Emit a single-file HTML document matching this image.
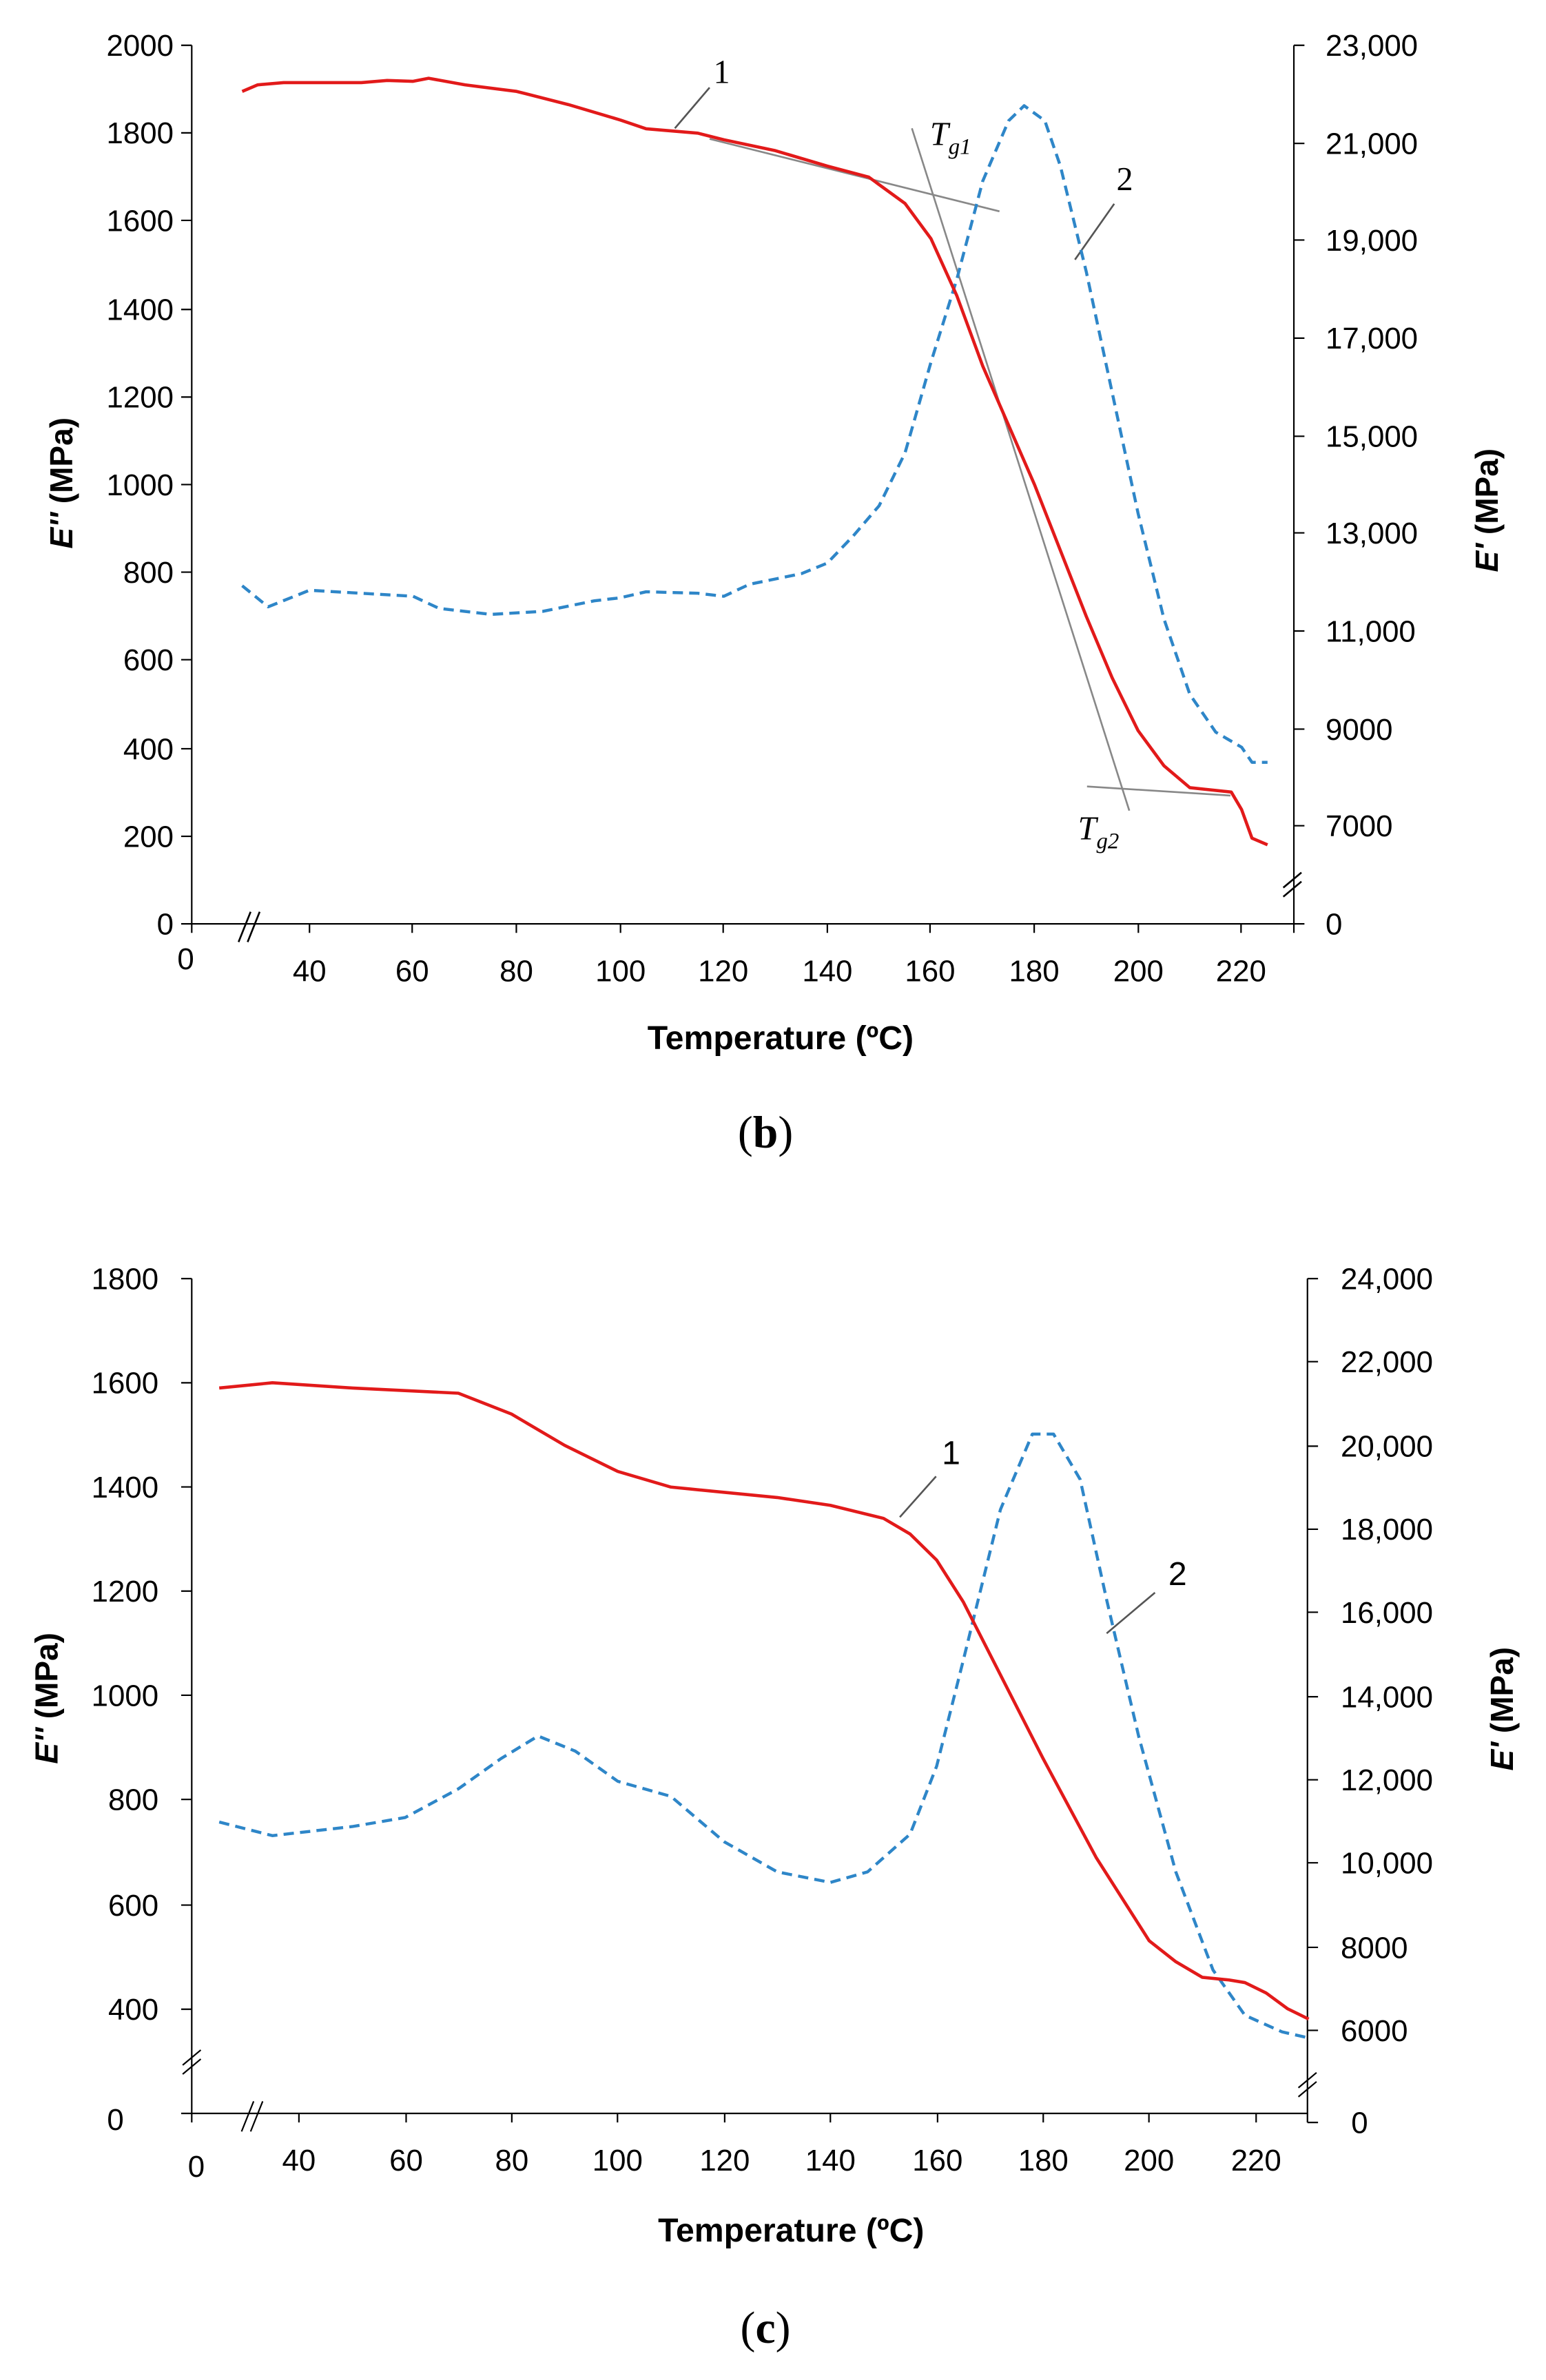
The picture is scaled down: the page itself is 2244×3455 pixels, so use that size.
<!DOCTYPE html>
<html><head><meta charset="utf-8"><style>html,body{margin:0;padding:0;background:#fff}svg{display:block}</style></head>
<body>
<svg width="2244" height="3455" viewBox="0 0 1024 1576.6" xmlns="http://www.w3.org/2000/svg" font-family="Liberation Sans, sans-serif">
<rect width="1024" height="1577" fill="#fff"/>
<!-- Chart b -->
<g stroke="#000" stroke-width="1" fill="none">
<path d="M127 30V612H857V30"/>
<path d="M120 30H127M120 88H127M120 146H127M120 205H127M120 263H127M120 321H127M120 379H127M120 437H127M120 496H127M120 554H127M120 612H127"/>
<path d="M857 30H864M857 95H864M857 159H864M857 224H864M857 289H864M857 353H864M857 418H864M857 483H864M857 547H864M857 612H864"/>
<path d="M127 612V618M205 612V618M273 612V618M342 612V618M411 612V618M479 612V618M548 612V618M616 612V618M685 612V618M754 612V618M822 612V618M857 612V618"/>
<path d="M158 624L166 604M164 624L172 604" stroke-width="1.2"/>
<path d="M850 588L862 578M850 594L862 584" stroke-width="1.2"/>
</g>
<g font-size="20" text-anchor="end">
<text x="115" y="37">2000</text><text x="115" y="95">1800</text><text x="115" y="153">1600</text><text x="115" y="212">1400</text><text x="115" y="270">1200</text><text x="115" y="328">1000</text><text x="115" y="386">800</text><text x="115" y="444">600</text><text x="115" y="503">400</text><text x="115" y="561">200</text><text x="115" y="619">0</text>
</g>
<g font-size="20" text-anchor="start">
<text x="878" y="37">23,000</text><text x="878" y="102">21,000</text><text x="878" y="166">19,000</text><text x="878" y="231">17,000</text><text x="878" y="296">15,000</text><text x="878" y="360">13,000</text><text x="878" y="425">11,000</text><text x="878" y="490">9000</text><text x="878" y="554">7000</text><text x="878" y="619">0</text>
</g>
<g font-size="20" text-anchor="middle">
<text x="123" y="642">0</text><text x="205" y="650">40</text><text x="273" y="650">60</text><text x="342" y="650">80</text><text x="411" y="650">100</text><text x="479" y="650">120</text><text x="548" y="650">140</text><text x="616" y="650">160</text><text x="685" y="650">180</text><text x="754" y="650">200</text><text x="822" y="650">220</text>
</g>
<text x="517" y="695" font-size="22" font-weight="bold" text-anchor="middle">Temperature (ºC)</text>
<text transform="translate(48 320) rotate(-90)" font-size="21" font-weight="bold" text-anchor="middle"><tspan font-style="italic">E''</tspan> (MPa)</text>
<text transform="translate(992 338) rotate(-90)" font-size="21" font-weight="bold" text-anchor="middle"><tspan font-style="italic">E'</tspan> (MPa)</text>
<text x="507" y="760" font-family="Liberation Serif, serif" font-size="30" text-anchor="middle">(<tspan font-weight="bold">b</tspan>)</text>
<g stroke="#888" stroke-width="1.2" fill="none">
<path d="M470 92L662 140M604 85L748 537M720 521L815 527"/>
<path d="M447 85L470 58M712 172L738 135" stroke="#555"/>
</g>
<text x="478" y="55" font-family="Liberation Serif, serif" font-size="22" text-anchor="middle">1</text>
<text x="745" y="126" font-family="Liberation Serif, serif" font-size="22" text-anchor="middle">2</text>
<text x="616" y="96" font-family="Liberation Serif, serif" font-size="22" font-style="italic">T<tspan font-size="15" dy="6">g1</tspan></text>
<text x="714" y="556" font-family="Liberation Serif, serif" font-size="22" font-style="italic">T<tspan font-size="15" dy="6">g2</tspan></text>
<g transform="matrix(3.43 0 0 1 67.8 0)" fill="none">
<path vector-effect="non-scaling-stroke" stroke="#2e86c8" stroke-width="4.4" stroke-dasharray="15 9" stroke-linejoin="round" d="M27 388L32 402L40 391L50 393L60 395L65 403L75 407L85 405L95 398L100 396L105 392L115 393L120 395L125 387L135 380L140 373L145 355L150 335L155 300L160 240L165 185L170 120L175 80L178 70L182 80L185 110L190 180L195 260L200 340L205 410L210 460L215 485L220 495L222 505L225 505"/>
</g>
<g transform="matrix(3.43 0 0 -0.291 67.8 612)" fill="none">
<path vector-effect="non-scaling-stroke" stroke="#e21a1a" stroke-width="4.6" stroke-linejoin="round" d="M27 1895L30 1910L35 1915L50 1915L55 1920L60 1918L63 1925L70 1910L80 1895L90 1865L100 1830L105 1810L115 1800L120 1785L130 1760L140 1725L148 1700L155 1640L160 1560L165 1430L170 1270L180 1000L190 700L195 560L200 440L205 360L210 310L218 300L220 260L222 195L225 180"/>
</g>
<!-- Chart c -->
<g stroke="#000" stroke-width="1" fill="none">
<path d="M127 847V1400H866V847"/>
<path d="M120 847H127M120 916H127M120 985H127M120 1054H127M120 1123H127M120 1192H127M120 1262H127M120 1331H127M120 1400H127"/>
<path d="M866 847H873M866 902H873M866 958H873M866 1013H873M866 1068H873M866 1124H873M866 1179H873M866 1234H873M866 1290H873M866 1345H873M866 1406H873"/>
<path d="M127 1400V1406M198 1400V1406M269 1400V1406M339 1400V1406M409 1400V1406M480 1400V1406M550 1400V1406M621 1400V1406M691 1400V1406M761 1400V1406M832 1400V1406M866 1400V1406"/>
<path d="M121 1368L133 1358M121 1374L133 1364"/>
<path d="M160 1412L168 1392M166 1412L174 1392"/>
<path d="M860 1383L872 1373M860 1389L872 1379"/>
</g>
<g font-size="20" text-anchor="end">
<text x="105" y="854">1800</text><text x="105" y="923">1600</text><text x="105" y="992">1400</text><text x="105" y="1061">1200</text><text x="105" y="1130">1000</text><text x="105" y="1199">800</text><text x="105" y="1269">600</text><text x="105" y="1338">400</text><text x="82" y="1411">0</text>
</g>
<g font-size="20" text-anchor="start">
<text x="888" y="854">24,000</text><text x="888" y="909">22,000</text><text x="888" y="965">20,000</text><text x="888" y="1020">18,000</text><text x="888" y="1075">16,000</text><text x="888" y="1131">14,000</text><text x="888" y="1186">12,000</text><text x="888" y="1241">10,000</text><text x="888" y="1297">8000</text><text x="888" y="1352">6000</text><text x="895" y="1413">0</text>
</g>
<g font-size="20" text-anchor="middle">
<text x="130" y="1442">0</text><text x="198" y="1438">40</text><text x="269" y="1438">60</text><text x="339" y="1438">80</text><text x="409" y="1438">100</text><text x="480" y="1438">120</text><text x="550" y="1438">140</text><text x="621" y="1438">160</text><text x="691" y="1438">180</text><text x="761" y="1438">200</text><text x="832" y="1438">220</text>
</g>
<text x="524" y="1485" font-size="22" font-weight="bold" text-anchor="middle">Temperature (ºC)</text>
<text transform="translate(38 1125) rotate(-90)" font-size="21" font-weight="bold" text-anchor="middle"><tspan font-style="italic">E''</tspan> (MPa)</text>
<text transform="translate(1002 1132) rotate(-90)" font-size="21" font-weight="bold" text-anchor="middle"><tspan font-style="italic">E'</tspan> (MPa)</text>
<text x="507" y="1552" font-family="Liberation Serif, serif" font-size="30" text-anchor="middle">(<tspan font-weight="bold">c</tspan>)</text>
<g stroke="#555" stroke-width="1.2" fill="none"><path d="M596 1005L620 978M733 1082L765 1055"/></g>
<text x="630" y="970" font-size="22" text-anchor="middle">1</text>
<text x="780" y="1050" font-size="22" text-anchor="middle">2</text>
<g transform="matrix(3.52 0 0 1 57.2 0)" fill="none">
<path vector-effect="non-scaling-stroke" stroke="#2e86c8" stroke-width="4.4" stroke-dasharray="15 9" stroke-linejoin="round" d="M25 1207L35 1216L50 1210L60 1204L70 1185L78 1165L85 1150L92 1160L100 1180L110 1190L120 1220L130 1240L140 1247L147 1240L155 1215L160 1170L165 1100L172 1000L178 950L182 950L187 980L192 1060L198 1150L205 1240L212 1305L218 1335L225 1346L230 1350"/>
</g>
<g transform="matrix(3.52 0 0 -0.3455 57.2 1468.8)" fill="none">
<path vector-effect="non-scaling-stroke" stroke="#e21a1a" stroke-width="4.6" stroke-linejoin="round" d="M25 1590L35 1600L50 1590L70 1580L80 1540L90 1480L100 1430L110 1400L130 1380L140 1365L150 1340L155 1310L160 1260L165 1180L170 1080L180 880L190 690L200 530L205 490L210 460L215 455L218 450L222 430L226 400L230 380"/>
</g>
</svg>
</body></html>
